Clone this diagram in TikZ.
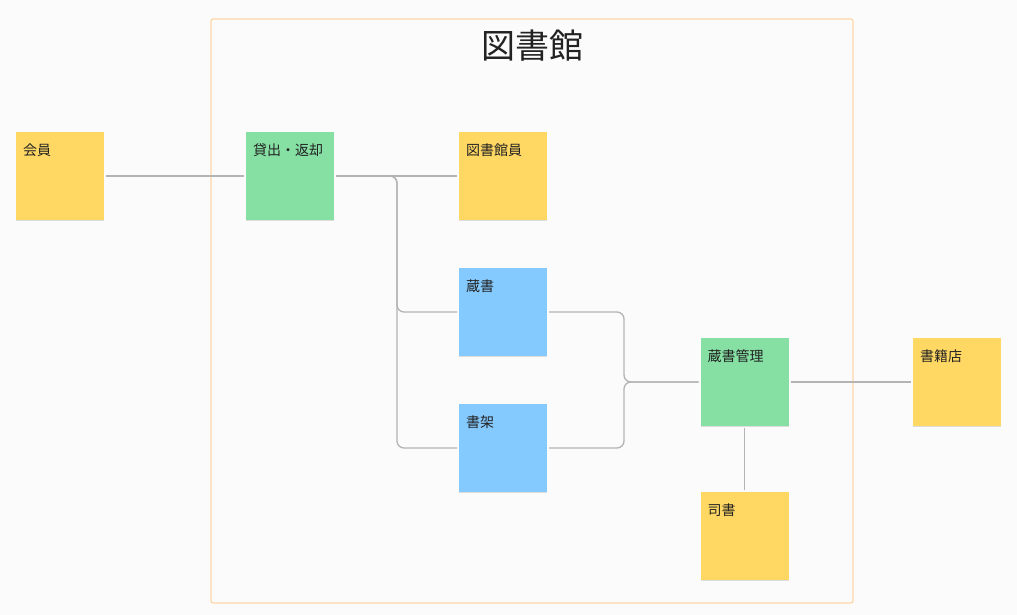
\documentclass[tikz,border=0pt]{standalone}
\usepackage{fontspec}
\setmainfont{Noto Sans CJK JP}
\usetikzlibrary{shadows}
\definecolor{bgc}{HTML}{FBFBFB}
\definecolor{framec}{HTML}{FFD7A6}
\definecolor{yel}{HTML}{FFD864}
\definecolor{grn}{HTML}{86E0A3}
\definecolor{blu}{HTML}{84CAFF}
\definecolor{linec}{HTML}{B4B4B4}
\definecolor{txt}{HTML}{222222}
\tikzset{
  note/.style={minimum width=88pt, minimum height=88pt, inner sep=0pt, outer sep=2pt,
    draw=none,
    drop shadow={shadow xshift=0pt, shadow yshift=-1.2pt, opacity=0.12, fill=black}},
  yellownote/.style={note, fill=yel},
  greennote/.style={note, fill=grn},
  bluenote/.style={note, fill=blu},
  lbl/.style={anchor=base west, inner sep=0pt, text=txt, font=\fontsize{14}{16}\selectfont},
  conn/.style={draw=linec, line width=1.3pt}
}
\begin{document}
\begin{tikzpicture}[x=1pt,y=-1pt]
\fill[bgc] (0,0) rectangle (1017,615);
\useasboundingbox (0,0) rectangle (1017,615);
\draw[framec, line width=1.2pt, rounded corners=2pt] (211,19) rectangle (853,603);
\node[anchor=base, inner sep=0pt, text=txt, font=\fontsize{34}{38}\selectfont] (title) at (532,59) {図書館};

\node[yellownote] (kaiin) at (60,176) {};
\node[greennote] (kashi) at (290,176) {};
\node[yellownote] (shokuin) at (503,176) {};
\node[bluenote] (zousho) at (503,312) {};
\node[bluenote] (shoka) at (503,448) {};
\node[greennote] (kanri) at (744.5,382) {};
\node[yellownote] (shoseki) at (957,382) {};
\node[yellownote] (shisho) at (744.5,536) {};

\node[lbl] (t1) at ([shift={(9pt,-25pt)}]kaiin.north west) {会員};
\node[lbl] (t2) at ([shift={(9pt,-25pt)}]kashi.north west) {貸出・返却};
\node[lbl] (t3) at ([shift={(9pt,-25pt)}]shokuin.north west) {図書館員};
\node[lbl] (t4) at ([shift={(9pt,-25pt)}]zousho.north west) {蔵書};
\node[lbl] (t5) at ([shift={(9pt,-25pt)}]shoka.north west) {書架};
\node[lbl] (t6) at ([shift={(9pt,-25pt)}]kanri.north west) {蔵書管理};
\node[lbl] (t7) at ([shift={(9pt,-25pt)}]shoseki.north west) {書籍店};
\node[lbl] (t8) at ([shift={(9pt,-25pt)}]shisho.north west) {司書};

\coordinate (jl) at (397,176);
\coordinate (jr) at (624,382);

\draw[conn] (kaiin.east) -- (kashi.west);
\draw[conn] (kashi.east) -- (shokuin.west);
\draw[conn, rounded corners=7pt] (kashi.east) -- (jl) |- (zousho.west);
\draw[conn, rounded corners=7pt] (kashi.east) -- (jl) |- (shoka.west);
\draw[conn, rounded corners=7pt] (zousho.east) -| (jr) -- (kanri.west);
\draw[conn, rounded corners=7pt] (shoka.east) -| (jr) -- (kanri.west);
\draw[conn] (kanri.east) -- (shoseki.west);
\draw[conn] (kanri.south) -- (shisho.north);
\end{tikzpicture}
\end{document}
